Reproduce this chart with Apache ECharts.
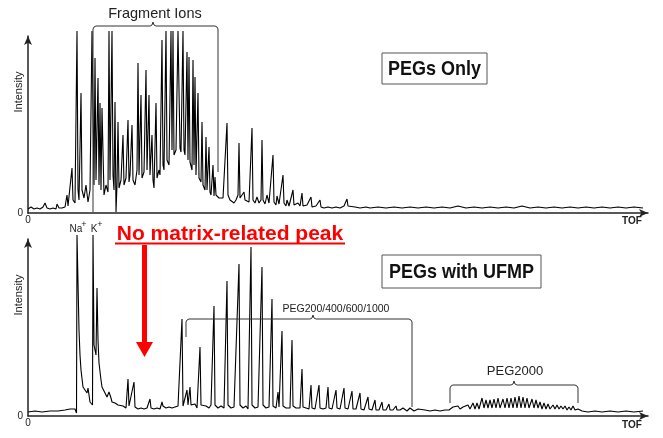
<!DOCTYPE html>
<html>
<head>
<meta charset="utf-8">
<script src="https://cdn.jsdelivr.net/npm/echarts@6/dist/echarts.min.js"></script>
<style>
  html, body { margin: 0; padding: 0; background: #fff; }
  #main { width: 663px; height: 438px; }
</style>
</head>
<body>
<div id="main"></div>
<script>
// 上图：PEGs Only（TOF / 强度，读图所得）
const topTof = [
  0, 3, 6, 9, 12, 15, 17, 19, 22, 25,
  28, 29, 31, 34, 37, 39, 40, 42, 44, 45,
  47, 49, 50, 51, 52, 53, 54, 56, 58, 60,
  62, 64, 65, 66, 67, 68, 70, 71, 72, 73,
  74, 76, 78, 80, 81, 82, 84, 85, 86, 87,
  88, 89, 90, 91, 93, 95, 96, 98, 100, 101,
  102, 104, 105, 107, 109, 110, 111, 113, 114, 116,
  118, 119, 121, 122, 124, 125, 126, 128, 129, 131,
  132, 134, 135, 136, 138, 139, 141, 143, 144, 145,
  146, 148, 150, 151, 152, 153, 155, 156, 157, 159,
  160, 161, 162, 164, 165, 166, 167, 168, 170, 171,
  173, 174, 175, 177, 178, 179, 181, 182, 183, 185,
  186, 187, 188, 190, 191, 193, 195, 197, 199, 200,
  202, 204, 206, 208, 210, 211, 212, 214, 216, 217,
  219, 221, 223, 224, 225, 227, 229, 231, 233, 234,
  235, 237, 239, 241, 243, 245, 246, 248, 249, 251,
  253, 255, 256, 258, 259, 261, 263, 265, 266, 268,
  270, 272, 274, 275, 277, 279, 281, 283, 284, 286,
  288, 290, 292, 293, 296, 300, 304, 308, 312, 316,
  319, 320, 322, 327, 332, 338, 342, 350, 358, 366,
  374, 382, 390, 398, 406, 414, 422, 430, 438, 446,
  454, 462, 470, 478, 486, 494, 502, 510, 518, 526,
  534, 542, 550, 558, 566, 574, 582, 590, 598, 606,
  615
]
const topIntensity = [
  4, 6, 4, 5, 4, 6, 10, 5, 4, 5,
  4, 9, 5, 5, 6, 18, 7, 9, 45, 13,
  10, 182, 23, 13, 65, 120, 23, 15, 28, 11,
  23, 182, 182, 28, 155, 33, 135, 28, 110, 23,
  105, 18, 28, 21, 182, 33, 182, 38, 23, 111,
  1, 28, 91, 25, 33, 78, 28, 35, 93, 31,
  38, 88, 33, 28, 43, 150, 38, 118, 35, 41,
  143, 43, 118, 38, 78, 33, 25, 110, 35, 43,
  38, 173, 48, 43, 182, 53, 48, 182, 63, 182,
  58, 63, 182, 182, 65, 61, 182, 63, 58, 161,
  53, 156, 51, 43, 153, 48, 136, 38, 120, 35,
  31, 91, 28, 23, 76, 23, 66, 21, 18, 48,
  17, 36, 18, 16, 15, 13, 15, 17, 90, 18,
  13, 15, 10, 13, 18, 70, 15, 17, 21, 13,
  15, 11, 13, 85, 13, 10, 16, 10, 13, 73,
  13, 9, 18, 10, 12, 58, 11, 8, 17, 9,
  10, 38, 10, 7, 13, 7, 9, 23, 8, 7,
  10, 7, 20, 7, 6, 8, 6, 16, 6, 5,
  7, 6, 13, 6, 5, 6, 5, 6, 5, 7,
  14, 7, 5, 6, 5, 6, 5, 6, 5, 6,
  5, 6, 5, 6, 5, 6, 5, 7, 5, 6,
  5, 6, 5, 6, 5, 7, 5, 6, 5, 6,
  5, 6, 5, 6, 5, 6, 5, 6, 5, 6,
  5
]

// 下图：PEGs with UFMP
const bottomTof = [
  0, 7, 14, 22, 30, 37, 42, 47, 48.5, 49,
  51, 52, 53, 55, 57, 59, 60, 62, 64, 64.5,
  65, 66, 68, 69, 70, 71, 73, 74, 77, 79,
  81, 83, 84, 87, 90, 92, 95, 98, 100, 101,
  103, 106, 107, 110, 113, 116, 119, 122, 123, 126,
  129, 132, 134, 135, 138, 141, 144, 147, 150, 152,
  154, 155, 157, 159, 160, 162, 163, 165, 167, 169,
  172, 173, 175, 178, 181, 183, 186, 187, 190, 193,
  196, 199, 200, 203, 206, 208, 211, 212, 215, 218,
  220, 223, 224, 227, 230, 232, 234, 235, 238, 241,
  243, 244, 245, 248, 250, 251, 253, 254, 255, 258,
  260, 262, 264, 265, 268, 270, 272, 274, 275, 278,
  281, 283, 284, 287, 289, 291, 292, 295, 298, 300,
  301, 304, 306, 308, 309, 312, 314, 316, 317, 320,
  322, 324, 325, 328, 330, 332, 333, 336, 338, 340,
  341, 344, 347, 348, 351, 354, 355, 358, 361, 362,
  365, 368, 369, 372, 375, 376, 379, 382, 383, 386,
  390, 392, 397, 402, 407, 412, 417, 421, 425, 427,
  430, 432, 435, 437, 440, 442, 445, 447, 449, 451,
  454, 456, 458, 460, 462, 464, 466, 468, 470, 472,
  475, 477, 479, 481, 483, 485, 487, 489, 491, 493,
  495, 497, 499, 501, 504, 506, 508, 510, 512, 514,
  516, 518, 520, 522, 525, 527, 529, 531, 533, 535,
  537, 539, 541, 543, 545, 547, 550, 554, 560, 567,
  574, 582, 590, 598, 606, 615
]
const bottomIntensity = [
  4, 5, 4, 5, 5, 6, 7, 7, 3, 181,
  86, 61, 46, 29, 26, 23, 28, 14, 13, 11,
  181, 71, 61, 128, 76, 53, 36, 29, 23, 19,
  24, 18, 14, 13, 11, 9, 10, 8, 37, 10,
  8, 34, 9, 7, 8, 7, 8, 17, 8, 7,
  8, 7, 14, 10, 8, 9, 8, 9, 10, 8,
  97, 10, 8, 26, 11, 29, 11, 9, 12, 8,
  69, 11, 9, 10, 8, 11, 110, 11, 8, 10,
  8, 135, 11, 8, 9, 7, 152, 11, 8, 10,
  7, 169, 11, 8, 9, 7, 149, 11, 8, 9,
  8, 117, 10, 8, 24, 9, 8, 85, 10, 8,
  9, 8, 76, 10, 8, 9, 8, 47, 9, 8,
  7, 31, 8, 7, 8, 31, 8, 7, 8, 29,
  8, 7, 8, 26, 8, 7, 8, 28, 8, 7,
  8, 25, 7, 7, 8, 23, 7, 6, 7, 19,
  7, 6, 16, 6, 6, 14, 6, 6, 12, 6,
  6, 10, 6, 6, 8, 6, 5, 8, 6, 5,
  7, 5, 6, 5, 6, 5, 6, 6, 9, 7,
  10, 7, 9, 7, 11, 7, 13, 7, 13, 7,
  18, 8, 16, 8, 16, 8, 17, 8, 18, 8,
  17, 8, 18, 8, 18, 8, 19, 8, 20, 8,
  19, 8, 18, 8, 17, 8, 16, 8, 14, 7,
  13, 7, 12, 7, 11, 7, 11, 7, 10, 7,
  10, 6, 9, 6, 10, 6, 7, 5, 4, 5,
  4, 5, 4, 5, 4, 5
]

const FONT = '"Liberation Sans", Arial, sans-serif'
const INK = '#222'

let chart = echarts.init(document.getElementById('main'), null, { renderer: 'canvas' })

let axisLine = {
  show: true,
  symbol: ['none', 'arrow'],
  symbolSize: [6, 9],
  lineStyle: { color: INK, width: 1.5 }
}
let zeroLabel = (margin) => ({
  margin: margin,
  fontSize: 10,
  color: INK,
  fontFamily: FONT,
  formatter: v => (v === 0 ? '0' : '')
})
let xAxisOf = (i) => ({
  type: 'value', gridIndex: i, min: 0, max: 620, interval: 620,
  axisLine: axisLine, axisTick: { show: false }, splitLine: { show: false },
  axisLabel: zeroLabel(2)
})
let yAxisOf = (i) => ({
  type: 'value', gridIndex: i, min: 0, max: 177, interval: 177,
  axisLine: axisLine, axisTick: { show: false }, splitLine: { show: false },
  axisLabel: zeroLabel(5)
})
let seriesOf = (i, xs, ys) => ({
  type: 'line', xAxisIndex: i, yAxisIndex: i,
  data: xs.map((x, k) => [x, ys[k]]),
  symbol: 'none', clip: false,
  lineStyle: { color: '#000', width: 1.1 }
})

// 文字
let label = (x, y, text, o) => ({
  type: 'text', x: x, y: y, z: 10,
  rotation: (o && o.rotation) || 0,
  scaleY: (o && o.scaleY) || 1,
  style: {
    text: text,
    fontSize: (o && o.size) || 11,
    fontWeight: (o && o.weight) || 'normal',
    fontFamily: FONT,
    fill: (o && o.color) || INK,
    align: 'center',
    verticalAlign: 'middle'
  }
})
// 花括号：左端、中点、右端，两脚长度可不同
let bracket = (x1, xm, x2, y, leftEnd, rightEnd) => ({
  type: 'polyline', z: 10,
  shape: {
    points: [
      [x1, leftEnd], [x1, y + 3], [x1 + 1, y + 1], [x1 + 3, y],
      [xm - 3, y], [xm - 1, y - 1], [xm, y - 4], [xm + 1, y - 1], [xm + 3, y],
      [x2 - 3, y], [x2 - 1, y + 1], [x2, y + 3], [x2, rightEnd]
    ]
  },
  style: { stroke: '#333', fill: 'none', lineWidth: 1 }
})
let box = (x, y, w, h, text) => ([
  { type: 'rect', z: 10, shape: { x: x, y: y, width: w, height: h },
    style: { fill: '#fff', stroke: '#555', lineWidth: 1 } },
  label(x + w / 2, y + h / 2 + 1, text, { size: 18, weight: 'bold', color: '#111', scaleY: 1.15 })
])

let option = {
  animation: false,
  backgroundColor: '#fff',
  grid: [
    { left: 28, right: 15, top: 36, bottom: 225 },
    { left: 28, right: 15, top: 239, bottom: 22 }
  ],
  xAxis: [xAxisOf(0), xAxisOf(1)],
  yAxis: [yAxisOf(0), yAxisOf(1)],
  series: [
    seriesOf(0, topTof, topIntensity),
    seriesOf(1, bottomTof, bottomIntensity)
  ],
  graphic: [
    // 上图
    label(155, 14, 'Fragment Ions', { size: 14.5 }),
    bracket(93, 153, 218, 26, 212, 172),
    ...box(382, 53, 105, 31, 'PEGs Only'),
    label(19, 92, 'Intensity', { rotation: Math.PI / 2 }),
    label(632, 221, 'TOF', { size: 10, weight: 'bold' }),
    // 下图
    label(19, 295, 'Intensity', { rotation: Math.PI / 2 }),
    label(76, 229, 'Na', { size: 10 }),
    label(84, 225, '+', { size: 9 }),
    label(94, 229, 'K', { size: 10 }),
    label(100, 225, '+', { size: 9 }),
    label(230, 234, 'No matrix-related peak', { size: 21, weight: 'bold', color: '#ff0000' }),
    { type: 'line', z: 10, shape: { x1: 115, y1: 243.5, x2: 345, y2: 243.5 },
      style: { stroke: '#ff0000', lineWidth: 2 } },
    { type: 'rect', z: 10, shape: { x: 142, y: 245, width: 5, height: 98 },
      style: { fill: '#ff0000' } },
    { type: 'polygon', z: 10, shape: { points: [[136, 342], [153, 342], [144.5, 357]] },
      style: { fill: '#ff0000' } },
    ...box(382, 255, 159, 33, 'PEGs with UFMP'),
    label(336, 309, 'PEG200/400/600/1000', { size: 10.5 }),
    bracket(186, 313, 412, 319, 337, 407),
    label(515, 371, 'PEG2000', { size: 13 }),
    bracket(450, 514, 578, 385, 403, 403),
    label(632, 425, 'TOF', { size: 10, weight: 'bold' })
  ]
}

chart.setOption(option)
</script>
</body>
</html>
